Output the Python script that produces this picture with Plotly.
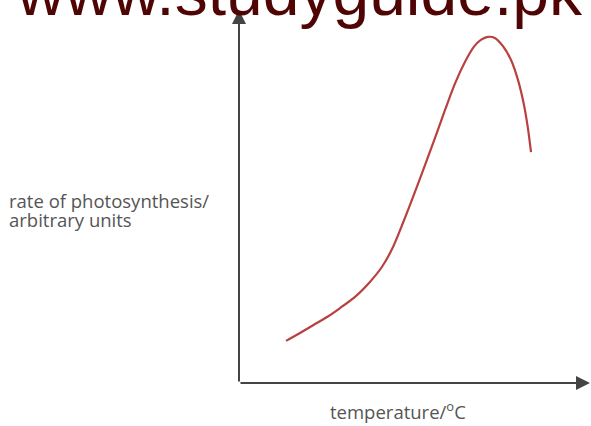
# -*- coding: utf-8 -*-
import plotly.graph_objects as go

# curve (arbitrary units, axis 0-100 on both sides)
temperature = [13.4, 17.4, 21.1, 25.1, 28.8, 33.3, 37.3, 40.7, 43.6, 46.7,
               51.0, 55.3, 58.7, 61.5, 64.4, 66.9, 68.9, 70.9, 72.9, 75.2,
               77.5, 79.5, 81.2, 82.3, 83.2]
rate = [11.3, 13.4, 15.5, 17.7, 20.1, 23.3, 27.1, 31.1, 35.9, 42.9,
        53.4, 64.3, 73.2, 80.2, 86.1, 90.1, 92.0, 92.8, 92.5, 90.3,
        86.6, 81.2, 74.5, 68.4, 61.9]

watermark = "www.studyguide.pk"
y_label_lines = ["rate of photosynthesis/", "arbitrary units"]
x_label = "temperature/<sup>o</sup>C"

axis_color = "#444444"
label_font = dict(family="Open Sans, Liberation Sans, sans-serif", size=18.5, color="#555555")

fig = go.Figure()

# 曲線
fig.add_trace(go.Scatter(
    x=temperature,
    y=rate,
    mode="lines",
    line=dict(color="#b8413f", width=2.2, shape="spline", smoothing=0.8),
    showlegend=False,
    hoverinfo="skip",
))

annotations = [
    # y axis with arrow
    dict(x=0, y=100, ax=0, ay=0, xref="x", yref="y", axref="x", ayref="y",
         showarrow=True, arrowhead=2, arrowsize=1.4, arrowwidth=2,
         arrowcolor=axis_color, standoff=0, text=""),
    # x axis with arrow
    dict(x=100, y=0, ax=0, ay=0, xref="x", yref="y", axref="x", ayref="y",
         showarrow=True, arrowhead=2, arrowsize=1.4, arrowwidth=2,
         arrowcolor=axis_color, standoff=0, text=""),
    # x label
    dict(x=0.453, y=-0.075, xref="paper", yref="paper", xanchor="center", yanchor="middle",
         showarrow=False, text=x_label, font=label_font),
    # watermark
    dict(x=0.171, y=0.944, xref="paper", yref="paper", xanchor="center", yanchor="bottom",
         showarrow=False, text=watermark,
         font=dict(family="Liberation Sans, Arial, sans-serif", size=66, color="#500505")),
]

# y label, one annotation per line to keep the tight line spacing
for line, ypos in zip(y_label_lines, [0.49, 0.438]):
    annotations.append(dict(x=-0.66, y=ypos, xref="paper", yref="paper",
                            xanchor="left", yanchor="middle", align="left",
                            showarrow=False, text=line, font=label_font))

fig.update_layout(
    width=591,
    height=426,
    margin=dict(l=239, r=1, t=10, b=43),
    paper_bgcolor="white",
    plot_bgcolor="white",
    xaxis=dict(range=[0, 100], visible=False, fixedrange=True),
    yaxis=dict(range=[0, 100], visible=False, fixedrange=True),
    annotations=annotations,
)

fig.write_html("out.html", config={"displayModeBar": False},
               post_script="document.body.style.margin='0';")
